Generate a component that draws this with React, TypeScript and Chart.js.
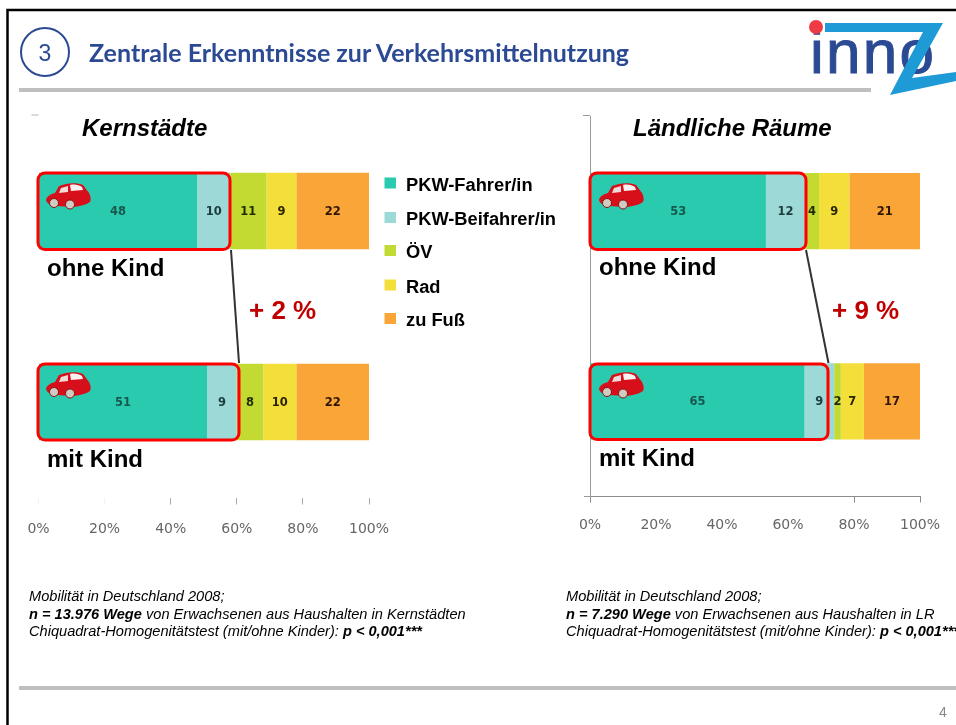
import React, { useEffect, useRef } from "react";
import { Chart, registerables } from "chart.js";

Chart.register(...registerables);

const categories = ["ohne Kind", "mit Kind"];
const seriesNames = ["PKW-Fahrer/in", "PKW-Beifahrer/in", "ÖV", "Rad", "zu Fuß"];
const seriesColors = ["#2ACAAE", "#9DD9D6", "#C3DA32", "#F4DE39", "#FAA537"];
const labelColors = ["#17584e", "#1d3c3c", "#1f2a05", "#2a2400", "#2e1500"];
const tickValues = [0, 20, 40, 60, 80, 100];

const kernFahrer = [48, 51];
const kernBeifahrer = [10, 9];
const kernOev = [11, 8];
const kernRad = [9, 10];
const kernFuss = [22, 22];

const landFahrer = [53.3, 65];
const landBeifahrer = [11.9, 9];
const landOev = [4.2, 2];
const landRad = [9.2, 7];
const landFuss = [21.4, 17];

const kernSeries = [kernFahrer, kernBeifahrer, kernOev, kernRad, kernFuss];
const landSeries = [landFahrer, landBeifahrer, landOev, landRad, landFuss];

const SANS = '"Liberation Sans", Arial, sans-serif';

const valueLabels = {
  id: "valueLabels",
  afterDatasetsDraw(chart: any) {
    const { ctx } = chart;
    ctx.save();
    ctx.font = 'bold 11.5px "DejaVu Sans"';
    ctx.textAlign = "center";
    ctx.textBaseline = "middle";
    chart.data.datasets.forEach((ds: any, i: number) => {
      ctx.fillStyle = labelColors[i];
      chart.getDatasetMeta(i).data.forEach((bar: any, j: number) => {
        const c = bar.getCenterPoint();
        ctx.fillText(String(Math.round(ds.data[j])), c.x, c.y + 1);
      });
    });
    ctx.restore();
  },
};

function makeChart(canvas: HTMLCanvasElement, series: number[][], cfg: any) {
  const axisMarks = {
    id: "axisMarks",
    afterDraw(chart: any) {
      const { ctx, chartArea: a } = chart;
      ctx.save();
      ctx.strokeStyle = cfg.markColor;
      ctx.lineWidth = 1;
      ctx.beginPath();
      ctx.moveTo(a.left - 7, a.top - 0.5);
      ctx.lineTo(a.left, a.top - 0.5);
      if (cfg.axisLines) {
        ctx.moveTo(a.left - 6, a.bottom);
        ctx.lineTo(a.left, a.bottom);
      }
      ctx.stroke();
      ctx.restore();
    },
  };
  return new Chart(canvas, {
    type: "bar",
    data: {
      labels: categories,
      datasets: series.map((data, i) => ({
        label: seriesNames[i],
        data,
        backgroundColor: seriesColors[i],
        borderWidth: 0,
        barPercentage: 1,
        categoryPercentage: 0.4,
      })),
    },
    plugins: [valueLabels, axisMarks],
    options: {
      indexAxis: "y",
      responsive: false,
      animation: false,
      layout: { padding: cfg.padding },
      plugins: { legend: { display: false }, tooltip: { enabled: false } },
      scales: {
        x: {
          stacked: true,
          min: 0,
          max: 100,
          afterFit: (s: any) => {
            s.height = cfg.axisHeight;
          },
          afterBuildTicks: (s: any) => {
            s.ticks = tickValues.map((value) => ({ value }));
          },
          border: { display: cfg.axisLines, color: "#8c8c8c", width: 1 },
          grid: {
            drawOnChartArea: false,
            tickLength: cfg.tickLength,
            tickWidth: 1,
            tickColor: (c: any) => cfg.tickColors[c.index],
          },
          ticks: {
            autoSkip: false,
            maxRotation: 0,
            padding: cfg.tickPadding,
            color: "#666",
            font: { family: "DejaVu Sans", size: 14 },
            callback: (v: any) => v + "%",
          },
        },
        y: {
          stacked: true,
          display: cfg.axisLines,
          afterFit: (s: any) => {
            s.width = 0;
          },
          border: { display: true, color: "#9a9a9a", width: 1 },
          grid: { display: false, drawTicks: false },
          ticks: { display: false },
        },
      },
    },
  } as any);
}

function Txt({ x, y, size, bold, italic, color, font, children }: any) {
  return (
    <div
      style={{
        position: "absolute",
        left: x,
        top: y,
        transform: "translateY(-50%)",
        whiteSpace: "nowrap",
        fontFamily: font || SANS,
        fontSize: size,
        fontWeight: bold ? 700 : 400,
        fontStyle: italic ? "italic" : "normal",
        color: color || "#000",
        lineHeight: 1,
      }}
    >
      {children}
    </div>
  );
}

function Car({ x, y }: any) {
  return (
    <g transform={`translate(${x} ${y})`}>
      <path
        d="M0 17 C1 13 5 11 9 10 L13 3 C20 0 31 -1 37 2 L43 10 C45 13 45 17 44 19 C40 22 34 23 28 24 L10 23 C5 22 1 21 0 17 Z"
        fill="#D60F1A"
      />
      <path d="M15 5 L22 3 L22 9 L13 10 Z" fill="#F3DADA" />
      <path d="M24 2 C29 1 33 2 36 4 L37 7 L25 8 Z" fill="#F9F2F2" />
      <circle cx="8" cy="20" r="4.5" fill="#CFCBC2" stroke="#8a1010" strokeWidth="1" />
      <circle cx="24" cy="21.5" r="4.5" fill="#CFCBC2" stroke="#8a1010" strokeWidth="1" />
    </g>
  );
}

function Note({ x, n, rest, stars }: any) {
  return (
    <>
      <Txt x={x} y={596} size={14.6} italic>
        Mobilität in Deutschland 2008;
      </Txt>
      <Txt x={x} y={614} size={14.6} italic>
        <b>{n}</b> {rest}
      </Txt>
      <Txt x={x} y={631} size={14.6} italic>
        Chiquadrat-Homogenitätstest (mit/ohne Kinder): <b>{stars}</b>
      </Txt>
    </>
  );
}

export default function App() {
  const leftRef = useRef<HTMLCanvasElement>(null);
  const rightRef = useRef<HTMLCanvasElement>(null);

  useEffect(() => {
    const left = makeChart(leftRef.current!, kernSeries, {
      padding: { left: 38.5, right: 51, top: 15.5, bottom: 0 },
      axisHeight: 72.5,
      axisLines: false,
      tickLength: 7,
      tickPadding: 16,
      markColor: "#b5b5b5",
      tickColors: ["#f2f2f2", "#f2f2f2", "#aaa", "#aaa", "#aaa", "#aaa"],
    });
    const right = makeChart(rightRef.current!, landSeries, {
      padding: { left: 30, right: 36, top: 16, bottom: 0 },
      axisHeight: 73.5,
      axisLines: true,
      tickLength: 6,
      tickPadding: 14,
      markColor: "#9a9a9a",
      tickColors: ["#8c8c8c", "rgba(0,0,0,0)", "rgba(0,0,0,0)", "rgba(0,0,0,0)", "#8c8c8c", "#8c8c8c"],
    });
    return () => {
      left.destroy();
      right.destroy();
    };
  }, []);

  const blue = "#2B4A93";
  const legendY = [184.5, 219, 252, 286.5, 320];

  return (
    <div style={{ position: "fixed", left: 0, top: 0, width: 956, height: 725, overflow: "hidden", background: "#fff" }}>
      <canvas ref={leftRef} width={420} height={470} style={{ position: "absolute", left: 0, top: 100 }} />
      <canvas ref={rightRef} width={396} height={470} style={{ position: "absolute", left: 560, top: 100 }} />

      <svg width={956} height={725} style={{ position: "absolute", left: 0, top: 0 }}>
        <rect x={7.5} y={10} width={960} height={730} fill="none" stroke="#000" strokeWidth={2.5} />
        <rect x={19} y={88} width={852} height={4} fill="#BFBFBF" />
        <rect x={19} y={686} width={937} height={4} fill="#BFBFBF" />
        <circle cx={45} cy={52} r={24} fill="none" stroke={blue} strokeWidth={2} />

        <text x={810} y={73} fontFamily={SANS} fontSize={62} fill={blue} stroke={blue} strokeWidth={1} textLength={124}>
          inno
        </text>
        <polygon points="825,23 943,23 912,78 956,72 956,81 890,95 923,32 825,32" fill="#1E9AD6" />
        <circle cx={816} cy={27} r={7} fill="#EE3B44" />

        <line x1={231} y1={250} x2={239} y2={363} stroke="#333" strokeWidth={2} />
        <line x1={806} y1={250} x2={828.5} y2={363} stroke="#333" strokeWidth={2} />

        <rect x={38} y={173} width={192} height={76.5} rx={7} fill="none" stroke="#FF0000" strokeWidth={3} />
        <rect x={38} y={364} width={201} height={76} rx={7} fill="none" stroke="#FF0000" strokeWidth={3} />
        <rect x={590} y={173} width={216} height={76.5} rx={7} fill="none" stroke="#FF0000" strokeWidth={3} />
        <rect x={590} y={364} width={238} height={75.5} rx={7} fill="none" stroke="#FF0000" strokeWidth={3} />

        <Car x={46} y={183} />
        <Car x={46} y={372} />
        <Car x={599} y={183} />
        <Car x={599} y={372} />

        {seriesColors.map((c, i) => (
          <rect key={c} x={384.5} y={legendY[i] - 7} width={11.5} height={11} fill={c} />
        ))}
      </svg>

      <Txt x={38.5} y={53} size={23} color={blue}>
        3
      </Txt>
      <Txt x={89} y={52} size={25} bold color={blue} font="Lato, sans-serif">
        Zentrale Erkenntnisse zur Verkehrsmittelnutzung
      </Txt>

      <Txt x={82} y={128} size={24} bold italic>
        Kernstädte
      </Txt>
      <Txt x={633} y={128} size={24} bold italic>
        Ländliche Räume
      </Txt>

      <Txt x={47} y={268} size={24} bold>
        {categories[0]}
      </Txt>
      <Txt x={47} y={459} size={24} bold>
        {categories[1]}
      </Txt>
      <Txt x={599} y={267} size={24} bold>
        {categories[0]}
      </Txt>
      <Txt x={599} y={458} size={24} bold>
        {categories[1]}
      </Txt>

      <Txt x={249} y={310} size={26} bold color="#C00000">
        + 2 %
      </Txt>
      <Txt x={832} y={310} size={26} bold color="#C00000">
        + 9 %
      </Txt>

      {seriesNames.map((name, i) => (
        <Txt key={name} x={406} y={legendY[i]} size={18.3} bold>
          {name}
        </Txt>
      ))}

      <Note x={29} n="n = 13.976 Wege" rest="von Erwachsenen aus Haushalten in Kernstädten" stars="p < 0,001***" />
      <Note x={566} n="n = 7.290 Wege" rest="von Erwachsenen aus Haushalten in LR" stars="p < 0,001***" />

      <Txt x={939} y={712} size={14} color="#888">
        4
      </Txt>
    </div>
  );
}
